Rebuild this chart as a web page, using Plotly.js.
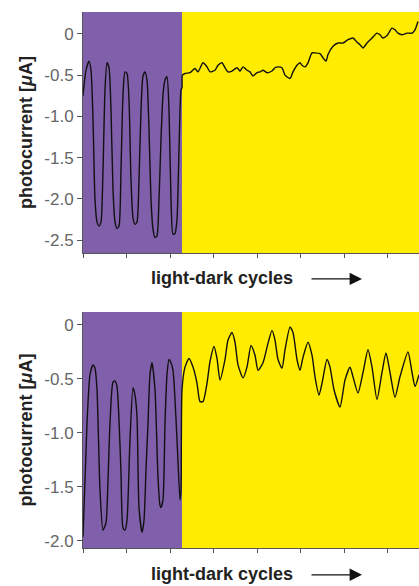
<!DOCTYPE html>
<html>
<head>
<meta charset="utf-8">
<script src="https://cdn.plot.ly/plotly-3.0.1.min.js"></script>
<style>html,body{margin:0;padding:0;background:#fff;}#chart{width:419px;height:586px;}</style>
</head>
<body>
<div id="chart"></div>
<script>
// x in arbitrary time units; first phase (purple) ends at phaseEnd
const phaseEnd = 99;
const xMax = 336;

const topX = [0,3,6,8,10,12,14,16,18,20,22,24,26,28,30,32,34,36,38,40,42,44,46,48,50,52,54,56,58,60,62,64,66,68,70,72,74,76,78,80,82,84,86,88,90,92,94,96,98,99,99.4,
  102,107,112,115,120,124,127,132,135,139,142,145,149,154,157,160,164,167,170,174,177,180,184,189,192,195,199,202,207,210,214,217,219,222,225,229,232,237,240,243,245,250,255,260,265,270,274,277,280,284,289,294,297,300,304,309,312,315,319,324,329,332,335];
const topY = [-0.75,-0.44,-0.33,-0.44,-1.04,-2.01,-2.28,-2.33,-2.28,-1.65,-0.68,-0.35,-0.41,-0.92,-1.89,-2.28,-2.36,-2.33,-1.65,-0.74,-0.46,-0.48,-0.80,-1.77,-2.23,-2.31,-2.28,-1.77,-0.92,-0.51,-0.46,-0.56,-1.16,-2.01,-2.37,-2.47,-2.45,-2.01,-1.28,-0.74,-0.56,-0.52,-0.92,-2.01,-2.43,-2.42,-2.25,-1.40,-0.68,-0.65,-0.50,
  -0.48,-0.47,-0.42,-0.46,-0.35,-0.40,-0.46,-0.44,-0.38,-0.35,-0.41,-0.46,-0.45,-0.41,-0.45,-0.40,-0.44,-0.46,-0.51,-0.47,-0.46,-0.44,-0.47,-0.45,-0.41,-0.40,-0.41,-0.50,-0.54,-0.46,-0.38,-0.35,-0.38,-0.40,-0.35,-0.23,-0.23,-0.24,-0.29,-0.33,-0.25,-0.15,-0.11,-0.11,-0.07,-0.05,-0.10,-0.13,-0.17,-0.11,-0.05,0.01,-0.01,-0.05,-0.02,0.07,0.05,0.01,-0.01,0.01,0.01,0.05,0.15];

const botX = [0,4,7,10,12,14,17,20,23,25,27,30,32,34,36,38,40,42,44,47,50,52,54,56,59,61,63,65,67,69,72,75,77,78,80,82,84,86,88,90,92,94,97,98,99,
  102,106,110,114,117,120,124,127,131,134,137,142,145,149,152,155,160,164,168,172,175,180,185,189,192,195,199,202,207,210,214,217,220,225,229,232,236,239,244,247,251,257,262,267,270,275,280,285,289,294,299,303,307,312,317,325,329,332,336];
const botY = [-1.96,-0.91,-0.46,-0.37,-0.40,-0.60,-1.53,-1.90,-1.83,-1.44,-0.91,-0.53,-0.52,-0.57,-0.88,-1.37,-1.88,-1.90,-1.81,-1.06,-0.58,-0.65,-0.85,-1.69,-1.92,-1.81,-1.34,-0.91,-0.46,-0.35,-0.60,-1.41,-1.67,-1.69,-1.62,-0.91,-0.46,-0.32,-0.35,-0.42,-0.69,-1.06,-1.62,-1.53,-0.60,
  -0.39,-0.31,-0.39,-0.54,-0.71,-0.71,-0.54,-0.34,-0.20,-0.31,-0.51,-0.32,-0.14,-0.07,-0.16,-0.37,-0.49,-0.39,-0.19,-0.28,-0.42,-0.35,-0.17,-0.05,-0.14,-0.32,-0.40,-0.23,-0.02,-0.07,-0.32,-0.42,-0.30,-0.16,-0.28,-0.48,-0.65,-0.54,-0.32,-0.39,-0.60,-0.76,-0.51,-0.39,-0.48,-0.63,-0.44,-0.23,-0.39,-0.69,-0.44,-0.26,-0.44,-0.67,-0.48,-0.25,-0.44,-0.57,-0.46];

const topTickVals = [0,-0.5,-1.0,-1.5,-2.0,-2.5];
const topTickText = ["0","-0.5","-1.0","-1.5","-2.0","-2.5"];
const botTickVals = [0,-0.5,-1.0,-1.5,-2.0];
const botTickText = ["0","-0.5","-1.0","-1.5","-2.0"];
const yTitle = "<b>photocurrent [<i>μ</i>A]</b>";
const xTitle = "<b>light-dark cycles</b>";

const purple = "#8160AB";
const yellow = "#FFEC00";
const axisCol = "#555";
const tickFont = {family: "Liberation Sans, Arial, sans-serif", size: 17, color: "#666"};
const titleFont = {family: "Liberation Sans, Arial, sans-serif", size: 18, color: "#222"};

const lineStyle = {color: "#111", width: 1.4, shape: "spline", smoothing: 0.6};
const traces = [
  {x: topX, y: topY, type: "scatter", mode: "lines", line: lineStyle, xaxis: "x", yaxis: "y", hoverinfo: "skip"},
  {x: botX, y: botY, type: "scatter", mode: "lines", line: lineStyle, xaxis: "x2", yaxis: "y2", hoverinfo: "skip"}
];

function xa(anchor) {
  return {anchor: anchor, range: [0, xMax], showgrid: false, zeroline: false, showline: true,
    linecolor: axisCol, linewidth: 1, ticks: "outside", ticklen: 4, tickcolor: axisCol,
    tick0: 0, dtick: 43.5, showticklabels: false, fixedrange: true};
}
function ya(anchor, domain, range, tv, tt) {
  return {anchor: anchor, domain: domain, range: range, showgrid: false, zeroline: false, showline: true,
    linecolor: axisCol, linewidth: 1, ticks: "outside", ticklen: 5, tickcolor: axisCol,
    tickmode: "array", tickvals: tv, ticktext: tt, tickfont: tickFont,
    title: {text: yTitle, font: titleFont, standoff: 6}, fixedrange: true};
}

function bg(xref, yref) {
  return [
    {type: "rect", xref: xref, yref: yref + " domain", x0: 0, x1: phaseEnd, y0: 0, y1: 1, fillcolor: purple, line: {width: 0}, layer: "below"},
    {type: "rect", xref: xref, yref: yref + " domain", x0: phaseEnd, x1: xMax, y0: 0, y1: 1, fillcolor: yellow, line: {width: 0}, layer: "below"}
  ];
}

const layout = {
  width: 419, height: 586,
  margin: {l: 83, r: 0, t: 12, b: 38},
  paper_bgcolor: "#fff", plot_bgcolor: "#fff",
  showlegend: false,
  xaxis: xa("y"),
  yaxis: ya("x", [0.5504, 1], [-2.657, 0.266], topTickVals, topTickText),
  xaxis2: xa("y2"),
  yaxis2: ya("x2", [0, 0.4403], [-2.065, 0.12], botTickVals, botTickText),
  shapes: bg("x", "y").concat(bg("x2", "y2")),
  annotations: [
    {text: xTitle, xref: "paper", yref: "paper", x: 0.414, y: 0.504, xanchor: "center", yanchor: "middle", showarrow: false, font: titleFont},
    {text: "", xref: "x", yref: "paper", x: 279, y: 0.502, ax: -52, ay: 0, showarrow: true, arrowhead: 2, arrowsize: 1.9, arrowwidth: 1.3, arrowcolor: "#111"},
    {text: xTitle, xref: "paper", yref: "paper", x: 0.414, y: -0.0485, xanchor: "center", yanchor: "middle", showarrow: false, font: titleFont},
    {text: "", xref: "x", yref: "paper", x: 279, y: -0.05, ax: -52, ay: 0, showarrow: true, arrowhead: 2, arrowsize: 1.9, arrowwidth: 1.3, arrowcolor: "#111"}
  ]
};

Plotly.newPlot("chart", traces, layout, {displayModeBar: false, staticPlot: true});
</script>
</body>
</html>
